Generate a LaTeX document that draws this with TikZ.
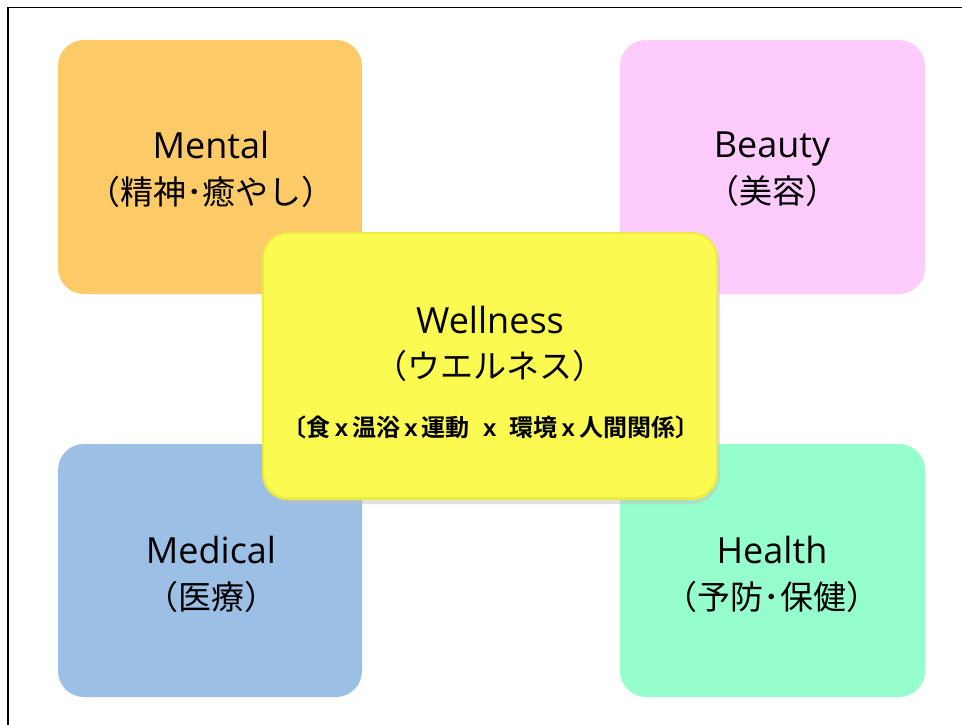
\documentclass[tikz,border=0pt]{standalone}
\usepackage{fontspec}
\setmainfont{Open Sans}
\newfontfamily\jpfont{Noto Sans CJK JP}
\newfontfamily\jpbold{Noto Sans CJK JP Bold}
\newfontfamily\arialbold{Liberation Sans}[UprightFont=*-Bold]
\definecolor{cMental}{RGB}{253,202,104}
\definecolor{cBeauty}{RGB}{253,204,253}
\definecolor{cMedical}{RGB}{156,191,230}
\definecolor{cHealth}{RGB}{150,253,204}
\definecolor{cWell}{RGB}{250,250,80}
\definecolor{cWellEdge}{RGB}{235,235,70}
\begin{document}
\begin{tikzpicture}[x=1pt,y=-1pt,
  card/.style={rounded corners=26pt},
  lbl/.style={align=center,font=\fontsize{36}{46}\selectfont,text=black,inner sep=0pt},
  jp/.style={font=\jpfont\fontsize{33}{46}\selectfont}
]
\useasboundingbox (0,0) rectangle (962,724);
\fill[white] (0,0) rectangle (962,724);
\draw[line width=1.6pt] (8,726) -- (8,7.5) -- (964,7.5);
% corner cards
\fill[cMental,card] (58,40) rectangle (362,294);
\fill[cBeauty,card] (620,40) rectangle (925,294);
\fill[cMedical,card] (58,444) rectangle (362,697);
\fill[cHealth,card] (620,444) rectangle (925,697);
\node[lbl] (mental) at (211,169) {Mental\\{\jpfont\fontsize{33}{46}\selectfont （精神･癒やし）}};
\node[lbl] (beauty) at (772,169) {Beauty\\{\jpfont\fontsize{33}{46}\selectfont （美容）}};
\node[lbl] (medical) at (211,574) {Medical\\{\jpfont\fontsize{33}{46}\selectfont （医療）}};
\node[lbl] (health) at (772,574) {Health\\{\jpfont\fontsize{33}{46}\selectfont （予防･保健）}};
% center card
\fill[black!25,opacity=0.45,rounded corners=28pt] (263,236) rectangle (720,504);
\fill[cWellEdge,card] (262,232) rectangle (718,500);
\fill[cWell,rounded corners=24pt] (264,234) rectangle (716,497);
\node[lbl] (wellness) at (490,320) {Wellness};
\node[lbl,jp] (wellkana) at (490,366) {（ウエルネス）};
\node[lbl,font=\jpbold\fontsize{24}{28}\selectfont] (elements) at (491,427) {〔食{\arialbold\,x\,}温浴{\arialbold\,x\,}運動{\arialbold\ \ x\ \ }環境{\arialbold\,x\,}人間関係〕};
\end{tikzpicture}
\end{document}
